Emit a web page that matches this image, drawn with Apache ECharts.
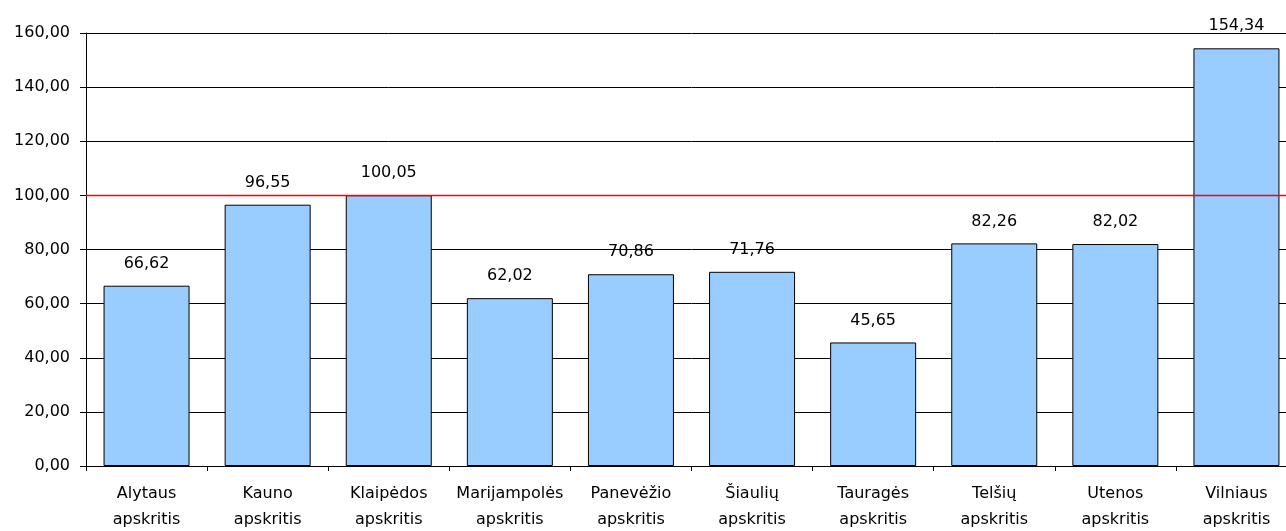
<!DOCTYPE html>
<html>
<head>
<meta charset="utf-8">
<script src="https://cdn.jsdelivr.net/npm/echarts@6/dist/echarts.min.js"></script>
<style>html,body{margin:0;padding:0;background:#fff;overflow:hidden;width:1286px;height:531px;}#c{width:1300px;height:531px;}</style>
</head>
<body>
<div id="c"></div>
<script>
var categories = ['Alytaus\napskritis','Kauno\napskritis','Klaipėdos\napskritis','Marijampolės\napskritis','Panevėžio\napskritis','Šiaulių\napskritis','Tauragės\napskritis','Telšių\napskritis','Utenos\napskritis','Vilniaus\napskritis'];
var values = [66.62, 96.55, 100.05, 62.02, 70.86, 71.76, 45.65, 82.26, 82.02, 154.34];
var referenceLine = 100;
var yMin = 0, yMax = 160, yStep = 20;

function fmt(v){ return Number(v).toFixed(2).replace('.', ','); }

var chart = echarts.init(document.getElementById('c'), null, {renderer:'canvas'});
var font = 'DejaVu Sans';
chart.setOption({
  animation: false,
  backgroundColor: '#fff',
  grid: {left: 86, top: 33, bottom: 65, right: 3, containLabel: false, outerBoundsMode: 'none'},
  xAxis: [{
    type: 'category',
    data: categories,
    axisLine: {show: true, lineStyle: {color: '#000', width: 1}},
    axisTick: {show: true, length: 5, lineStyle: {color: '#000'}},
    axisLabel: {interval: 0, color: '#000', fontFamily: font, fontSize: 16, lineHeight: 26, margin: 15}
  }, {
    type: 'value', min: 0, max: 1, show: false
  }],
  yAxis: {
    type: 'value', min: yMin, max: yMax, interval: yStep,
    axisLine: {show: true, lineStyle: {color: '#000', width: 1}},
    axisTick: {show: true, length: 6, lineStyle: {color: '#000'}},
    splitLine: {show: true, lineStyle: {color: '#000', width: 1}},
    axisLabel: {color: '#000', fontFamily: font, fontSize: 16, margin: 16, formatter: function(v){ return fmt(v); }}
  },
  series: [{
    type: 'bar',
    data: values,
    barWidth: 86,
    z: 2,
    itemStyle: {color: '#99CCFF', borderColor: '#000', borderWidth: 1},
    label: {show: true, position: 'top', distance: 14, color: '#000', fontFamily: font, fontSize: 16, formatter: function(p){ return fmt(p.value); }}
  }, {
    type: 'line',
    xAxisIndex: 1,
    data: [[0, referenceLine], [1, referenceLine]],
    symbol: 'none',
    silent: true,
    zlevel: 1,
    z: 10,
    lineStyle: {color: '#FF0000', width: 1.5}
  }]
});
</script>
</body>
</html>
